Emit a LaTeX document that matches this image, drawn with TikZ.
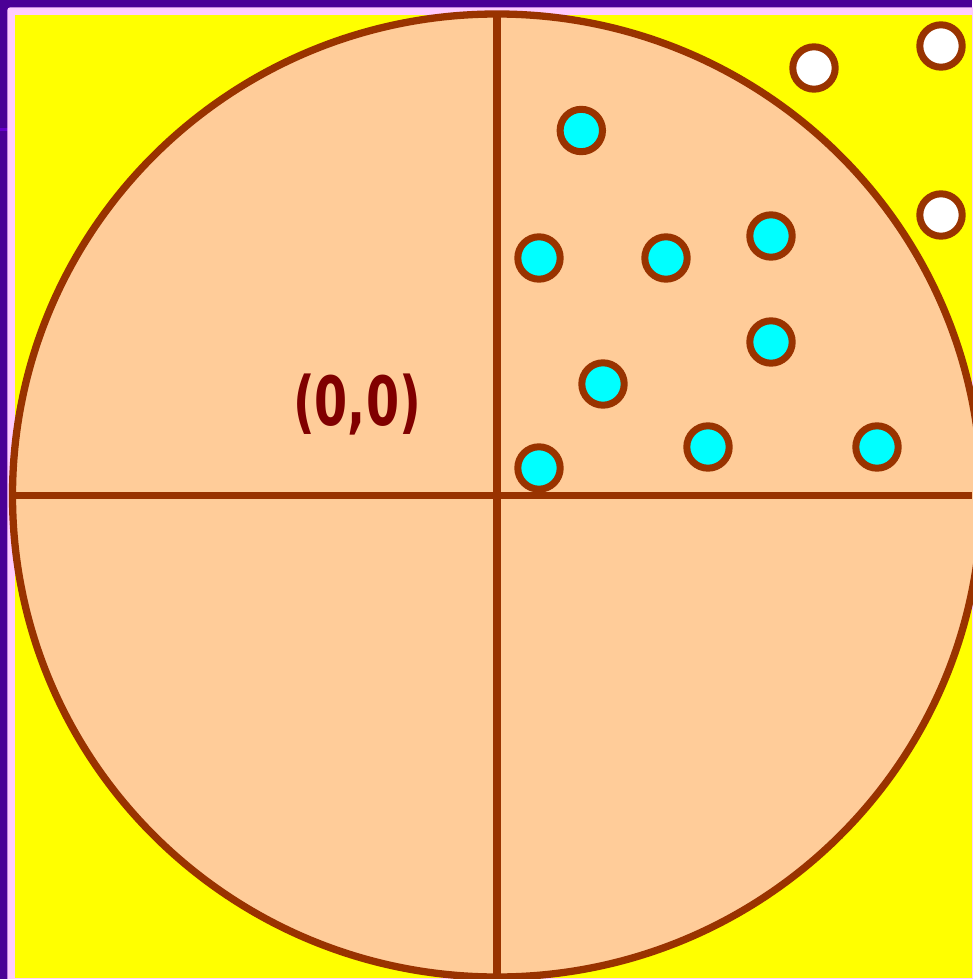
\documentclass[tikz,border=0pt]{standalone}
\usepackage{fontspec}
\newfontfamily\labelfont{DejaVu Sans}
\definecolor{bgpurple}{RGB}{75,0,150}
\definecolor{linepurple}{RGB}{102,0,204}
\definecolor{framepink}{RGB}{255,204,255}
\definecolor{peach}{RGB}{255,204,153}
\definecolor{brown}{RGB}{153,51,0}
\definecolor{labelred}{RGB}{128,0,0}
\definecolor{dotcyan}{RGB}{0,255,255}
\definecolor{bgyellow}{RGB}{255,255,0}
\tikzset{
  dot/.style={circle, draw=brown, line width=7pt, fill=dotcyan, minimum size=42.4pt, inner sep=0pt},
  outdot/.style={dot, fill=white},
  axis/.style={draw=brown, line width=7.3pt}
}
\begin{document}
\begin{tikzpicture}[x=1pt,y=-1pt]
\useasboundingbox (0,0) rectangle (972,979);
\fill[bgpurple] (0,0) rectangle (972,979);
\fill[linepurple] (0,128) rectangle (8,131);
\fill[framepink, rounded corners=3pt] (7.3,7.3) rectangle (990,990);
\fill[bgyellow] (15,15) rectangle (972,977.7);
\coordinate (O) at (497,495.5);
\draw[axis, fill=peach] (O) ellipse [x radius=484.5, y radius=481.5];
\coordinate (T) at (497,12);
\coordinate (B) at (497,979);
\coordinate (L) at (12,495.5);
\coordinate (R) at (972,495.5);
\draw[axis] (T) -- (B);
\draw[axis] (L) -- (R);
\node[text=labelred, font=\labelfont\bfseries\fontsize{68}{68}\selectfont] (lbl) at (357,405) {\scalebox{0.7}[1]{(0,0)}};
\node[dot] (d1) at (581.3,130.5) {};
\node[dot] (d2) at (539,258) {};
\node[dot] (d3) at (666,258) {};
\node[dot] (d4) at (771,236) {};
\node[dot] (d5) at (771,342) {};
\node[dot] (d6) at (603,384) {};
\node[dot] (d7) at (539,468) {};
\node[dot] (d8) at (708,447) {};
\node[dot] (d9) at (877,447) {};
\node[outdot] (w1) at (814,68) {};
\node[outdot] (w2) at (941,46) {};
\node[outdot] (w3) at (941,215) {};
\end{tikzpicture}
\end{document}
